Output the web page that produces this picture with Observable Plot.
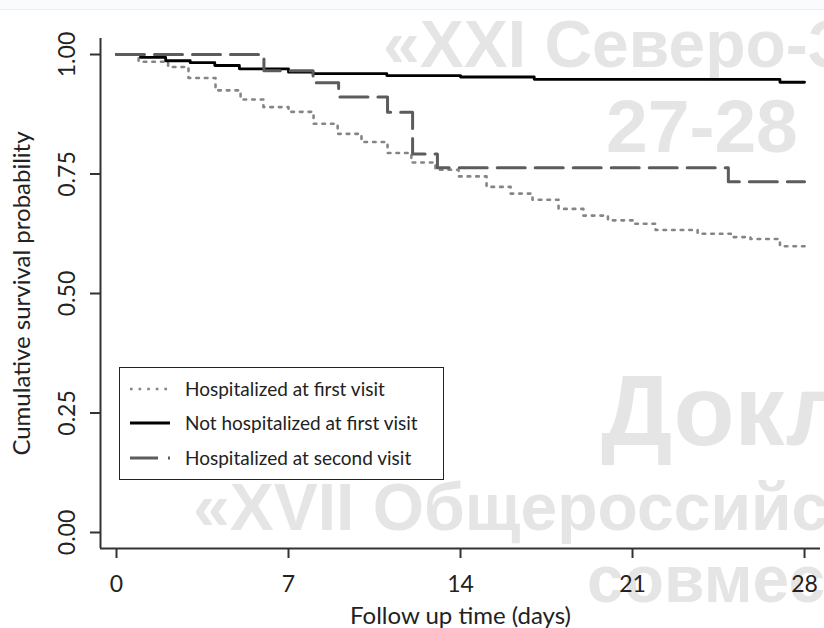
<!DOCTYPE html>
<html><head><meta charset="utf-8">
<script src="https://cdn.jsdelivr.net/npm/d3@7"></script>
<script src="https://cdn.jsdelivr.net/npm/@observablehq/plot@0.6"></script>
<style>
html,body{margin:0;padding:0;background:#fff;}
#wrap{position:relative;width:824px;height:628px;overflow:hidden;font-family:Lato,sans-serif;}
#topband{position:absolute;left:0;top:0;width:824px;height:9px;background:#fafbfc;border-bottom:1px solid #e8eef4;z-index:0;}
.wm{position:absolute;font-family:"Liberation Sans",Arial,sans-serif;font-weight:bold;color:#e5e5e5;line-height:1;white-space:nowrap;z-index:0;}
#chart{position:absolute;left:0;top:0;z-index:1;}
#legend{position:absolute;left:119px;top:367px;width:325px;height:113px;box-sizing:border-box;border:1.5px solid #222;z-index:2;}
.lrow{position:absolute;left:10px;height:24px;display:flex;align-items:center;font-family:Lato,sans-serif;font-size:19px;color:#222;white-space:nowrap;}
.lrow svg{display:block;margin-right:15px;}
</style>
</head><body>
<div id="wrap">
  <div id="topband"></div>
  <div class="wm" style="left:383px;top:11px;font-size:66px;">«XXI Северо-З</div>
  <div class="wm" style="left:606px;top:89px;font-size:75px;">27-28</div>
  <div class="wm" style="left:601px;top:360px;font-size:100px;">Докл</div>
  <div class="wm" style="left:193px;top:474px;font-size:66px;">«XVII Общероссийс</div>
  <div class="wm" style="left:587px;top:546px;font-size:66px;">совмес</div>
  <div id="chart"></div>
  <div id="legend"></div>
</div>
<script>
// ---- data ----
const seriesNames = ["Hospitalized at first visit", "Not hospitalized at first visit", "Hospitalized at second visit"];

const hosp1Time = [0, 0.9, 2.1, 2.93, 4.03, 5.05, 5.98, 7.0, 8.02, 9.0, 9.97, 11.03, 12.0, 12.98, 13.92, 15.06, 16.04, 16.93, 17.99, 19.0, 20.0, 21.0, 21.94, 23.65, 25.0, 25.8, 27.0, 28];
const hosp1Surv = [1.0, 0.985, 0.974, 0.951, 0.925, 0.906, 0.890, 0.880, 0.855, 0.834, 0.817, 0.794, 0.774, 0.759, 0.745, 0.723, 0.709, 0.696, 0.677, 0.663, 0.653, 0.646, 0.633, 0.625, 0.618, 0.614, 0.599, 0.599];

const notHospTime = [0, 0.98, 2.0, 3.0, 4.0, 5.0, 7.0, 8.0, 11.0, 14.0, 17.0, 27.0, 28];
const notHospSurv = [1.0, 0.994, 0.987, 0.983, 0.977, 0.970, 0.963, 0.960, 0.956, 0.953, 0.948, 0.942, 0.942];

const hosp2Time = [0, 6.0, 8.0, 9.04, 11.03, 12.05, 13.06, 24.9, 28];
const hosp2Surv = [1.0, 0.966, 0.941, 0.911, 0.879, 0.792, 0.763, 0.734, 0.734];

const xTicks = [0, 7, 14, 21, 28];
const yTicks = [0, 0.25, 0.5, 0.75, 1];
const xDomain = [-0.651, 28.65];
const yDomain = [-0.0335, 1.0335];

const styles = [
  {stroke: "#858585", strokeWidth: 2.6, strokeDasharray: "2.6,6"},
  {stroke: "#000000", strokeWidth: 2.8, strokeDasharray: null},
  {stroke: "#5c5c5c", strokeWidth: 3, strokeDasharray: "28,10"}
];

const toRows = (ts, ss) => ts.map((t, i) => ({t, s: ss[i]}));
const data = [toRows(hosp1Time, hosp1Surv), toRows(notHospTime, notHospSurv), toRows(hosp2Time, hosp2Surv)];

const chart = Plot.plot({
  width: 824, height: 628,
  marginLeft: 100, marginRight: 4, marginTop: 38, marginBottom: 80,
  x: {domain: xDomain, label: null},
  y: {domain: yDomain, label: null},
  style: {background: "transparent", fontFamily: "Lato, sans-serif", fontSize: "23px", color: "#222"},
  marks: [
    Plot.ruleX([xDomain[0]], {stroke: "#333", strokeWidth: 2}),
    Plot.ruleY([yDomain[0]], {stroke: "#333", strokeWidth: 2}),
    Plot.axisX({ticks: xTicks, tickSize: 10, tickPadding: 17, stroke: "#333", strokeWidth: 2, fontSize: 23, fill: "#222"}),
    Plot.axisY({ticks: yTicks, tickSize: 10, tickFormat: () => "", stroke: "#333", strokeWidth: 2}),
    Plot.text(yTicks, {y: d => d, frameAnchor: "left", dx: -33, rotate: -90, textAnchor: "middle", text: d => d3.format(".2f")(d), fontSize: 23, fill: "#222"}),
    Plot.text(["Cumulative survival probability"], {frameAnchor: "left", dx: -78, rotate: -90, textAnchor: "middle", text: d => d, fontSize: 24, fill: "#222"}),
    Plot.text(["Follow up time (days)"], {frameAnchor: "bottom", dy: 75, text: d => d, fontSize: 24, fill: "#222"}),
    ...data.map((rows, i) => Plot.line(rows, {x: "t", y: "s", curve: "step-after", ...styles[i]}))
  ]
});
document.getElementById("chart").appendChild(chart);

// legend
const legendCenters = [22, 56, 91];
const leg = d3.select("#legend");
seriesNames.forEach((name, i) => {
  const row = leg.append("div").attr("class", "lrow").style("top", (legendCenters[i] - 12 - 1.5) + "px");
  const svg = row.append("svg").attr("width", 40).attr("height", 8);
  const st = styles[i];
  svg.append("line").attr("x1", 0).attr("x2", 40).attr("y1", 4).attr("y2", 4)
    .attr("stroke", st.stroke).attr("stroke-width", st.strokeWidth)
    .attr("stroke-dasharray", st.strokeDasharray);
  row.append("span").text(name);
});
</script>
</body></html>
